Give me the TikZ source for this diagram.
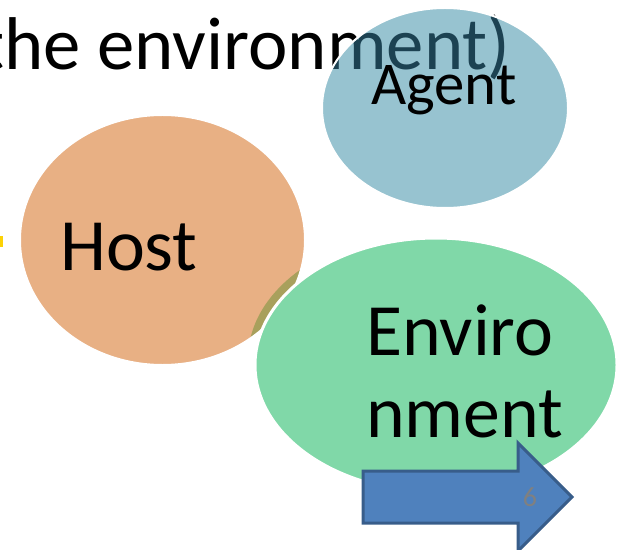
\documentclass[tikz,border=0pt]{standalone}
\usepackage{fontspec}
\setmainfont{Carlito}
\usetikzlibrary{shapes.geometric}
\definecolor{hostc}{RGB}{232,176,132}
\definecolor{agentc}{RGB}{151,195,208}
\definecolor{envc}{RGB}{128,216,168}
\definecolor{olivec}{RGB}{168,160,92}
\definecolor{inkc}{RGB}{28,66,82}
\definecolor{arrowc}{RGB}{79,129,189}
\definecolor{arrowe}{RGB}{56,93,138}
\tikzset{
  blob/.style={ellipse, inner sep=0pt, outer sep=0pt},
  big/.style={inner sep=0pt, font=\fontsize{74}{86}\selectfont}
}
\begin{document}
\begin{tikzpicture}[x=1bp, y=-1bp]
    \useasboundingbox (0,0) rectangle (617,550);
    \clip (0,0) rectangle (617,550);
    \node[inner sep=0pt, font=\fontsize{75}{86}\selectfont, anchor=base west] (title) at (-21,70) {the environment)};
    \fill[yellow!70!orange] (0,236) rectangle (3,247);
    % host and the olive piece under the environment
    \node[blob, fill=hostc, minimum width=285bp, minimum height=250bp] (host) at (162.5,240) {};
    \begin{scope}
      \clip (162.5,240) ellipse [x radius=142.5bp, y radius=125bp];
      \fill[olivec] (429,359) ellipse [x radius=181bp, y radius=127bp];
    \end{scope}
    \node[blob, draw=white, line width=2bp, minimum width=285bp, minimum height=250bp] at (host) {};
    \node[blob, fill=envc, draw=white, line width=3bp, minimum width=362bp, minimum height=254bp] (env) at (436,365) {};
    % agent, drawn over the title
    \node[blob, fill=agentc, minimum width=246bp, minimum height=200bp] (agent) at (445,108) {};
    \begin{scope}
      \clip (445,108) ellipse [x radius=123bp, y radius=100bp];
      \node[inner sep=0pt, font=\fontsize{75}{86}\selectfont, anchor=base west, text=inkc] at (title.base west) {the environment)};
    \end{scope}
    \node[blob, draw=white, line width=2bp, minimum width=246bp, minimum height=200bp] at (agent) {};
    \node[inner sep=0pt, font=\fontsize{61}{70}\selectfont, anchor=base west] (agentlbl) at (371,105) {Agent};
    \node[big, anchor=base west] (hostlbl) at (60,270) {Host};
    \node[big, anchor=base west] (envlbl1) at (366,355) {Enviro};
    \node[big, anchor=base west] (envlbl2) at (366,437) {nment};
    % next-slide arrow
    \draw[fill=arrowc, draw=arrowe, line width=3bp, line join=miter]
      (363,471) -- (518,471) -- (518,443) -- (572,497) -- (518,551) -- (518,523) -- (363,523) -- cycle;
    \node[text=black!50, font=\fontsize{28}{30}\selectfont] (pagenum) at (530,497) {6};
\end{tikzpicture}
\end{document}
